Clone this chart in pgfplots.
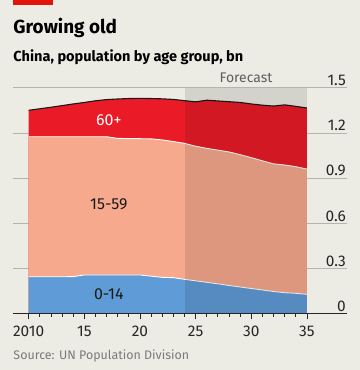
\documentclass[border=0pt]{standalone}
\usepackage{pgfplots}
\usepackage{pgfplotstable}
\pgfplotsset{compat=1.18}
\usepackage{fontspec}
\setmainfont{Fira Sans}
\definecolor{bg}{HTML}{ECEBE4}
\definecolor{eco}{HTML}{E3120B}
\definecolor{old}{HTML}{EA1B27}
\definecolor{work}{HTML}{F6A98D}
\definecolor{young}{HTML}{5F9BD6}
\definecolor{gridc}{HTML}{B5B5AE}
\definecolor{src}{HTML}{7A7A7A}
\definecolor{fc}{HTML}{5E5E5E}

\pgfplotstableread{
year total work young
2010 1.350 1.174 0.243
2011 1.360 1.174 0.243
2012 1.370 1.174 0.243
2013 1.381 1.174 0.243
2014 1.392 1.174 0.244
2015 1.402 1.174 0.255
2016 1.413 1.174 0.255
2017 1.421 1.174 0.255
2018 1.425 1.163 0.255
2019 1.428 1.162 0.255
2020 1.429 1.161 0.255
2021 1.428 1.160 0.247
2022 1.426 1.153 0.239
2023 1.422 1.142 0.237
2024 1.414 1.130 0.226
2025 1.406 1.111 0.216
2026 1.417 1.097 0.206
2027 1.412 1.085 0.196
2028 1.407 1.073 0.185
2029 1.402 1.055 0.175
2030 1.392 1.035 0.165
2031 1.384 1.014 0.155
2032 1.378 0.994 0.145
2033 1.386 0.986 0.137
2034 1.376 0.975 0.133
2035 1.365 0.959 0.126
}\data

\begin{document}
\begin{tikzpicture}[x=1bp,y=1bp]
\fill[bg] (0,0) rectangle (360,-370);
\fill[eco] (13.3,0) rectangle (53.3,-5);
\node[anchor=base west, inner sep=0, font=\fontsize{19}{19}\selectfont\bfseries] at (13.3,-33.3) {Growing old};
\node[anchor=base west, inner sep=0, font=\fontsize{14.6}{14.6}\selectfont\bfseries] at (13.3,-61.7) {China, population by age group, bn};
\node[anchor=base west, inner sep=0, text=src, font=\fontsize{12.5}{12.5}\selectfont] at (13.3,-359) {Source: UN Population Division};
\node[anchor=base, inner sep=0, text=fc, font=\fontsize{14}{14}\selectfont] at (246,-82.7) {Forecast};
\begin{axis}[
  at={(13.1bp,-313.3bp)}, anchor=south west,
  scale only axis, width=333.9bp, height=225.6bp,
  xmin=2008.6, xmax=2038.6, ymin=0, ymax=1.5,
  axis line style={draw=none},
  xtick pos=bottom, ytick pos=right,
  tick align=outside,
  major tick length=6bp, minor tick length=3.5bp,
  xtick={2010,2015,2020,2025,2030,2035},
  xticklabels={2010,15,20,25,30,35},
  minor xtick={2011,2012,2013,2014,2016,2017,2018,2019,2021,2022,2023,2024,2026,2027,2028,2029,2031,2032,2033,2034},
  xtick style={color=black!85, line width=0.8bp},
  minor tick style={color=black!85, line width=0.8bp},
  ytick={0,0.3,0.6,0.9,1.2,1.5},
  yticklabels={0,0.3,0.6,0.9,1.2,1.5},
  ytick style={draw=none},
  ymajorgrids, grid style={gridc, line width=0.6bp},
  yticklabel pos=right,
  yticklabel style={anchor=south east, inner sep=1.5bp, xshift=-5.5bp, font=\fontsize{15.5}{15.5}\selectfont, text=black!85},
  xticklabel style={font=\fontsize{15.5}{15.5}\selectfont, text=black!85, yshift=-3bp},
]
\addplot[fill=old, draw=none] table[x=year,y=total]{\data} \closedcycle;
\addplot[fill=work, draw=none] table[x=year,y=work]{\data} \closedcycle;
\addplot[fill=young, draw=none] table[x=year,y=young]{\data} \closedcycle;
\addplot[draw=white, line width=0.9bp] table[x=year,y=work]{\data};
\addplot[draw=white, line width=0.9bp] table[x=year,y=young]{\data};
\addplot[draw=black!90, line width=1.1bp] table[x=year,y=total]{\data};
\addplot[fill=black, fill opacity=0.1, draw=none] coordinates {(2024,1.5) (2035,1.5)} \closedcycle;
\draw[black!85, line width=1bp] (rel axis cs:0,0) -- (rel axis cs:1,0);
\node[text=white, font=\fontsize{16}{16}\selectfont] at (axis cs:2017.2,1.285) {60+};
\node[text=black!90, font=\fontsize{16}{16}\selectfont] at (axis cs:2017.2,0.727) {15-59};
\node[text=black!90, font=\fontsize{16}{16}\selectfont] at (axis cs:2017.2,0.128) {0-14};
\end{axis}
\end{tikzpicture}
\end{document}
